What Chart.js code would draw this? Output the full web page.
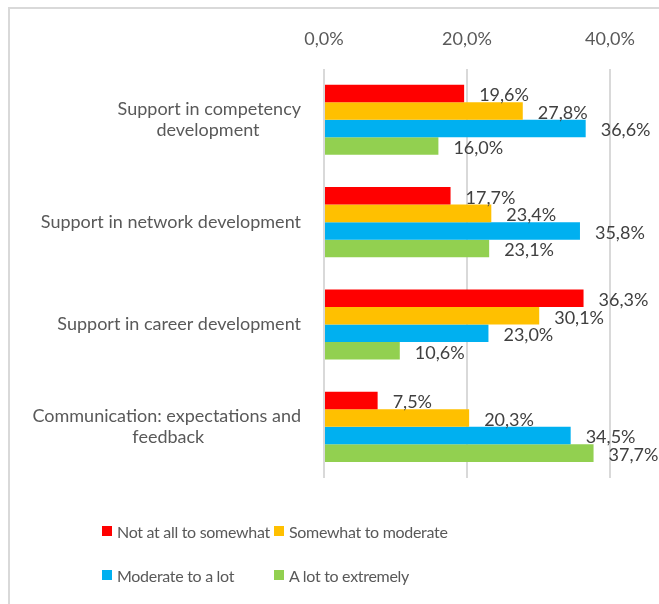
<!DOCTYPE html>
<html>
<head>
<meta charset="utf-8">
<script src="https://cdn.jsdelivr.net/npm/chart.js@4"></script>
<style>
  html, body { margin: 0; padding: 0; background: #fff; overflow: hidden; }
  #frame { position: absolute; left: 8px; top: 7px; width: 700px; height: 700px; border: 2px solid #d9d9d9; box-sizing: border-box; }
  #wrap { position: absolute; left: 0; top: 0; width: 659px; height: 604px; }
  #legend { position: absolute; left: 102px; top: 520px; display: grid; grid-template-columns: 172px 172px; row-gap: 22px;
    font-family: Lato, sans-serif; font-size: 16px; letter-spacing: -0.3px; color: #595959; }
  #legend div { display: flex; align-items: center; white-space: nowrap; height: 22px; }
  #legend span.box { display: inline-block; flex-shrink: 0; width: 10px; height: 10px; margin-right: 5px; }
</style>
</head>
<body>
<div id="frame"></div>
<div id="wrap"><canvas id="surveyChart"></canvas></div>
<div id="legend"></div>
<script>
// categories and series (percent)
var categories = [
  ['Support in competency', 'development'],
  'Support in network development',
  'Support in career development',
  ['Communication: expectations and', 'feedback']
];
var seriesNames = ['Not at all to somewhat', 'Somewhat to moderate', 'Moderate to a lot', 'A lot to extremely'];
var notAtAll = [19.6, 17.7, 36.3, 7.5];
var somewhat = [27.8, 23.4, 30.1, 20.3];
var moderate = [36.6, 35.8, 23.0, 34.5];
var aLot = [16.0, 23.1, 10.6, 37.7];
var tickValues = [0, 20, 40];
var colors = ['#ff0000', '#ffc000', '#00b0f0', '#92d050'];

var fontFamily = 'Lato, sans-serif';
var fontSize = 18;

function pct(v) {
  return v.toFixed(1).replace('.', ',') + '%';
}

// pad shorter lines so wrapped labels look centred (axis draws them right aligned)
var mctx = document.createElement('canvas').getContext('2d');
mctx.font = fontSize + 'px ' + fontFamily;
function centerLines(label) {
  if (!Array.isArray(label)) return label;
  var widths = label.map(function(s) { return mctx.measureText(s).width; });
  var maxW = Math.max.apply(null, widths);
  var sp = mctx.measureText(' ').width;
  return label.map(function(s, i) {
    var n = Math.round((maxW - widths[i]) / 2 / sp);
    return s + new Array(n + 1).join(' ');
  });
}

// value labels at the end of each bar
var barLabels = {
  id: 'barLabels',
  afterDatasetsDraw: function(chart) {
    var ctx = chart.ctx;
    ctx.save();
    ctx.font = fontSize + 'px ' + fontFamily;
    ctx.fillStyle = '#404040';
    ctx.textAlign = 'left';
    ctx.textBaseline = 'middle';
    chart.data.datasets.forEach(function(ds, i) {
      chart.getDatasetMeta(i).data.forEach(function(bar, j) {
        ctx.fillText(pct(ds.data[j]), bar.x + 15, bar.y + 2);
      });
    });
    ctx.restore();
  }
};

var sctx = document.getElementById('surveyChart').getContext('2d');
var surveyChart = new Chart(sctx, {
  type: 'bar',
  data: {
    labels: categories.map(centerLines),
    datasets: [
      { label: seriesNames[0], data: notAtAll, backgroundColor: colors[0] },
      { label: seriesNames[1], data: somewhat, backgroundColor: colors[1] },
      { label: seriesNames[2], data: moderate, backgroundColor: colors[2] },
      { label: seriesNames[3], data: aLot, backgroundColor: colors[3] }
    ]
  },
  options: {
    indexAxis: 'y',
    responsive: true,
    maintainAspectRatio: false,
    animation: false,
    datasets: {
      bar: {
        categoryPercentage: 0.685,
        barPercentage: 1
      }
    },
    layout: {
      // top axis is 2*padding + label height tall
      padding: { left: 10, right: 49, top: 9, bottom: 126 }
    },
    plugins: {
      legend: {
        display: false
      },
      tooltip: {
        enabled: false
      }
    },
    scales: {
      x: {
        position: 'top',
        min: 0,
        max: 40,
        afterBuildTicks: function(scale) {
          scale.ticks = tickValues.map(function(v) { return { value: v }; });
        },
        border: {
          display: false
        },
        grid: {
          color: '#d9d9d9',
          lineWidth: 2,
          drawTicks: false
        },
        ticks: {
          padding: 19,
          color: '#595959',
          font: { family: fontFamily, size: fontSize },
          callback: function(v) { return pct(v); }
        }
      },
      y: {
        afterFit: function(scale) {
          scale.width = 314;
          scale.paddingTop = 0;
          scale.paddingBottom = 0;
        },
        border: {
          display: false
        },
        grid: {
          display: false,
          drawTicks: false
        },
        ticks: {
          padding: 23,
          color: '#595959',
          font: { family: fontFamily, size: fontSize }
        }
      }
    }
  },
  plugins: [barLabels]
});

// html legend in two columns
var legendEl = document.getElementById('legend');
seriesNames.forEach(function(name, i) {
  var item = document.createElement('div');
  var box = document.createElement('span');
  box.className = 'box';
  box.style.background = colors[i];
  item.appendChild(box);
  item.appendChild(document.createTextNode(name));
  legendEl.appendChild(item);
});
</script>
</body>
</html>
